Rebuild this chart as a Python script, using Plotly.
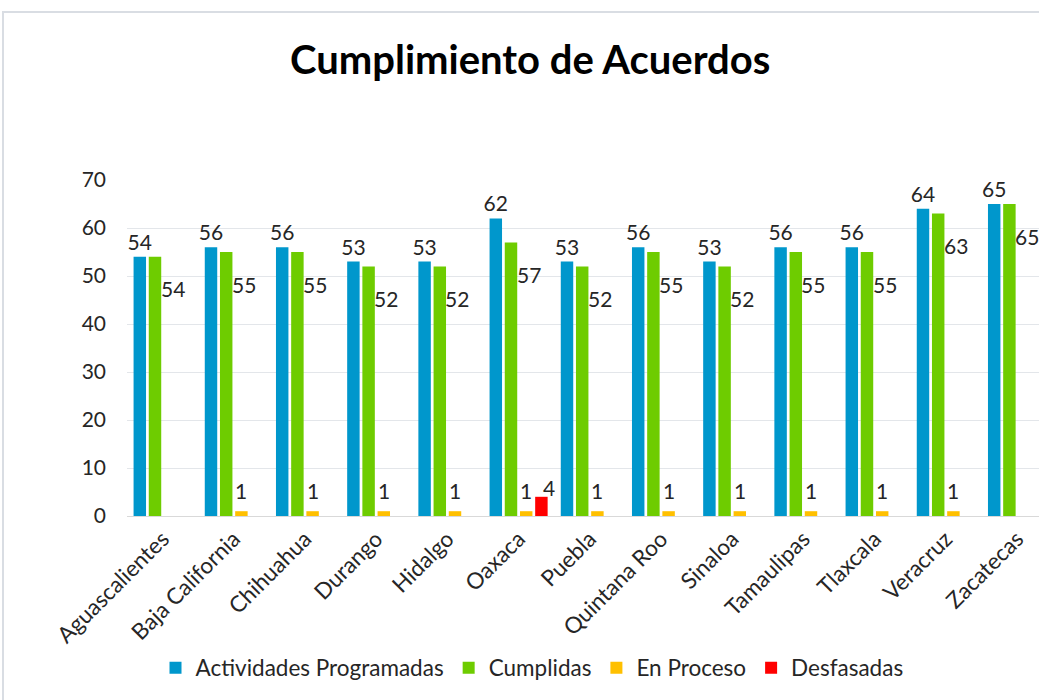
import plotly.graph_objects as go

categorias = ["Aguascalientes", "Baja California", "Chihuahua", "Durango", "Hidalgo",
              "Oaxaca", "Puebla", "Quintana Roo", "Sinaloa", "Tamaulipas",
              "Tlaxcala", "Veracruz", "Zacatecas"]
programadas = [54, 56, 56, 53, 53, 62, 53, 56, 53, 56, 56, 64, 65]
cumplidas = [54, 55, 55, 52, 52, 57, 52, 55, 52, 55, 55, 63, 65]
en_proceso = [0, 1, 1, 1, 1, 1, 1, 1, 1, 1, 1, 1, 0]
desfasadas = [0, 0, 0, 0, 0, 4, 0, 0, 0, 0, 0, 0, 0]
y_ticks = [0, 10, 20, 30, 40, 50, 60, 70]

FONT = "Lato"
TXT = "#262626"
LBL = 21
col_prog, col_cump, col_proc, col_desf = "#0097CC", "#6ECC00", "#FFC000", "#FF0000"

fig = go.Figure()
fig.add_trace(go.Bar(name="Actividades Programadas", x=categorias, y=programadas,
                     marker=dict(color=col_prog, line=dict(width=0)),
                     text=[str(v) for v in programadas], textposition="outside",
                     textfont=dict(family=FONT, size=LBL, color=TXT),
                     constraintext="none", cliponaxis=False))
fig.add_trace(go.Bar(name="Cumplidas", x=categorias, y=cumplidas,
                     marker=dict(color=col_cump, line=dict(width=0))))
fig.add_trace(go.Bar(name="En Proceso", x=categorias, y=en_proceso,
                     marker=dict(color=col_proc, line=dict(width=0))))
fig.add_trace(go.Bar(name="Desfasadas", x=categorias, y=desfasadas,
                     marker=dict(color=col_desf, line=dict(width=0))))

slot = 15.2  # px width of one bar slot at this layout
annotations = []
for c, v in zip(categorias, cumplidas):
    annotations.append(dict(x=c, y=v, xref="x", yref="y", text=str(v), showarrow=False,
                            xshift=10, yshift=-32, yanchor="middle",
                            font=dict(family=FONT, size=LBL, color=TXT)))
for c, v in zip(categorias, en_proceso):
    if v:
        annotations.append(dict(x=c, y=v, xref="x", yref="y", text=str(v), showarrow=False,
                                xshift=slot * 0.5, yshift=21, yanchor="middle",
                                font=dict(family=FONT, size=LBL, color=TXT)))
for c, v in zip(categorias, desfasadas):
    if v:
        annotations.append(dict(x=c, y=v, xref="x", yref="y", text=str(v), showarrow=False,
                                xshift=slot * 1.5 + 8, yshift=9, yanchor="middle",
                                font=dict(family=FONT, size=LBL, color=TXT)))

L, R, T, B = 127, 0, 180, 184
pw, ph = 1039 - L - R, 700 - T - B

annotations.append(dict(text="<b>Cumplimiento de Acuerdos</b>",
                        x=(530 - L) / pw, y=(700 - B - 59) / ph,
                        xref="paper", yref="paper", showarrow=False,
                        font=dict(family=FONT, size=40, color="#000000"),
                        xanchor="center", yanchor="middle"))

fig.update_layout(
    width=1039, height=700,
    margin=dict(l=L, r=R, t=T, b=B, autoexpand=False),
    paper_bgcolor="white", plot_bgcolor="white",
    barmode="group", bargap=0.146, bargroupgap=0.18,
    font=dict(family=FONT, color=TXT),
    showlegend=True,
    legend=dict(orientation="h", x=(532 - L) / pw, xanchor="center", y=(700 - B - 668) / ph,
                yanchor="middle", font=dict(family=FONT, size=22.5, color=TXT),
                itemwidth=30, traceorder="normal"),
    annotations=annotations,
    shapes=[dict(type="rect", xref="paper", yref="paper",
                 x0=(3 - L) / pw, x1=(1045 - L) / pw,
                 y0=(700 - B - 710) / ph, y1=(700 - B - 12) / ph,
                 line=dict(color="#D9DDE3", width=2), layer="below")],
)
fig.update_xaxes(type="category", range=[-0.5, -0.5 + pw / 71.2], tickangle=-45,
                 tickfont=dict(family=FONT, size=22.5, color=TXT),
                 showline=True, linecolor="#D9D9D9", linewidth=1, ticks="",
                 showgrid=False)
fig.update_yaxes(range=[0, 70], tickvals=y_ticks, ticktext=[str(t) for t in y_ticks],
                 tickfont=dict(family=FONT, size=21, color=TXT),
                 showgrid=True, gridcolor="#E3E6EA", gridwidth=1,
                 zeroline=False, showline=False, ticks="", ticklabelstandoff=20)

fig.write_html("out.html", config={"displayModeBar": False},
               post_script="document.body.style.margin='0';document.body.style.overflow='hidden';")
